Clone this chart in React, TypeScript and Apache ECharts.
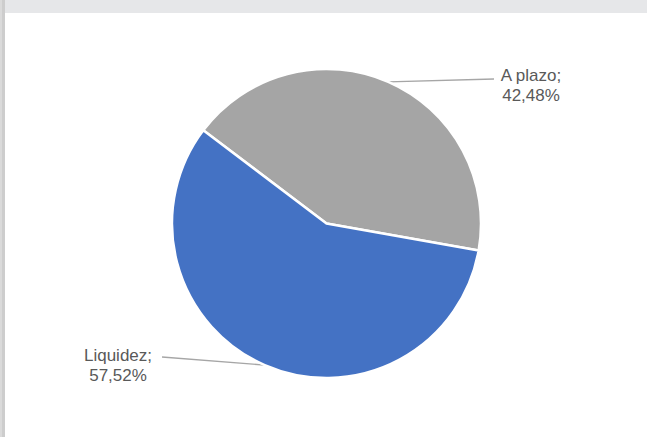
import React, { useEffect, useRef } from "react";
import * as echarts from "echarts";

const categories = ["A plazo", "Liquidez"];
const values = [42.48, 57.52];
const labelTexts = ["A plazo;\n42,48%", "Liquidez;\n57,52%"];
const colors = ["#A5A5A5", "#4472C4"];

export default function App() {
  const ref = useRef<HTMLDivElement>(null);
  useEffect(() => {
    if (!ref.current) return;
    const chart = echarts.init(ref.current, null, { renderer: "svg" });
    const labelSpots = [
      { x: 531, y: 85, lx: 494, ly: 79 },
      { x: 118, y: 365, lx: 162, ly: 357 },
    ];
    chart.setOption({
      animation: false,
      backgroundColor: "transparent",
      series: [
        {
          type: "pie",
          center: [326.5, 223.5],
          radius: [0, 154.5],
          startAngle: 142.9,
          clockwise: true,
          data: categories.map((c, i) => ({
            name: c,
            value: values[i],
            itemStyle: { color: colors[i] },
          })),
          itemStyle: { borderColor: "#ffffff", borderWidth: 2.5 },
          label: {
            show: true,
            position: "outside",
            formatter: (p: any) => labelTexts[p.dataIndex],
            fontFamily: "Liberation Sans",
            fontSize: 17,
            lineHeight: 20,
            color: "#595959",
            align: "center",
          },
          labelLine: {
            show: true,
            length: 10,
            length2: 20,
            lineStyle: { color: "#A6A6A6", width: 1.3 },
          },
          labelLayout: (params: any) => {
            const s = labelSpots[params.dataIndex];
            const start = params.labelLinePoints ? params.labelLinePoints[0] : [s.lx, s.ly];
            return {
              x: s.x,
              y: s.y,
              align: "center",
              verticalAlign: "middle",
              labelLinePoints: [start, start, [s.lx, s.ly]],
            };
          },
          emphasis: { disabled: true },
        },
      ],
    });
    return () => chart.dispose();
  }, []);
  return (
    <div style={{ position: "fixed", left: 0, top: 0, width: 647, height: 437, background: "#fff" }}>
      <div ref={ref} style={{ position: "absolute", left: 0, top: 0, width: 647, height: 437 }} />
      <div style={{ position: "absolute", left: 0, top: 0, width: 647, height: 13, background: "#E6E7E9" }} />
      <div style={{ position: "absolute", left: 0, top: 0, width: 2, height: 437, background: "#DADADA" }} />
      <div style={{ position: "absolute", left: 2, top: 0, width: 3, height: 437, background: "#CDCDCD" }} />
    </div>
  );
}
